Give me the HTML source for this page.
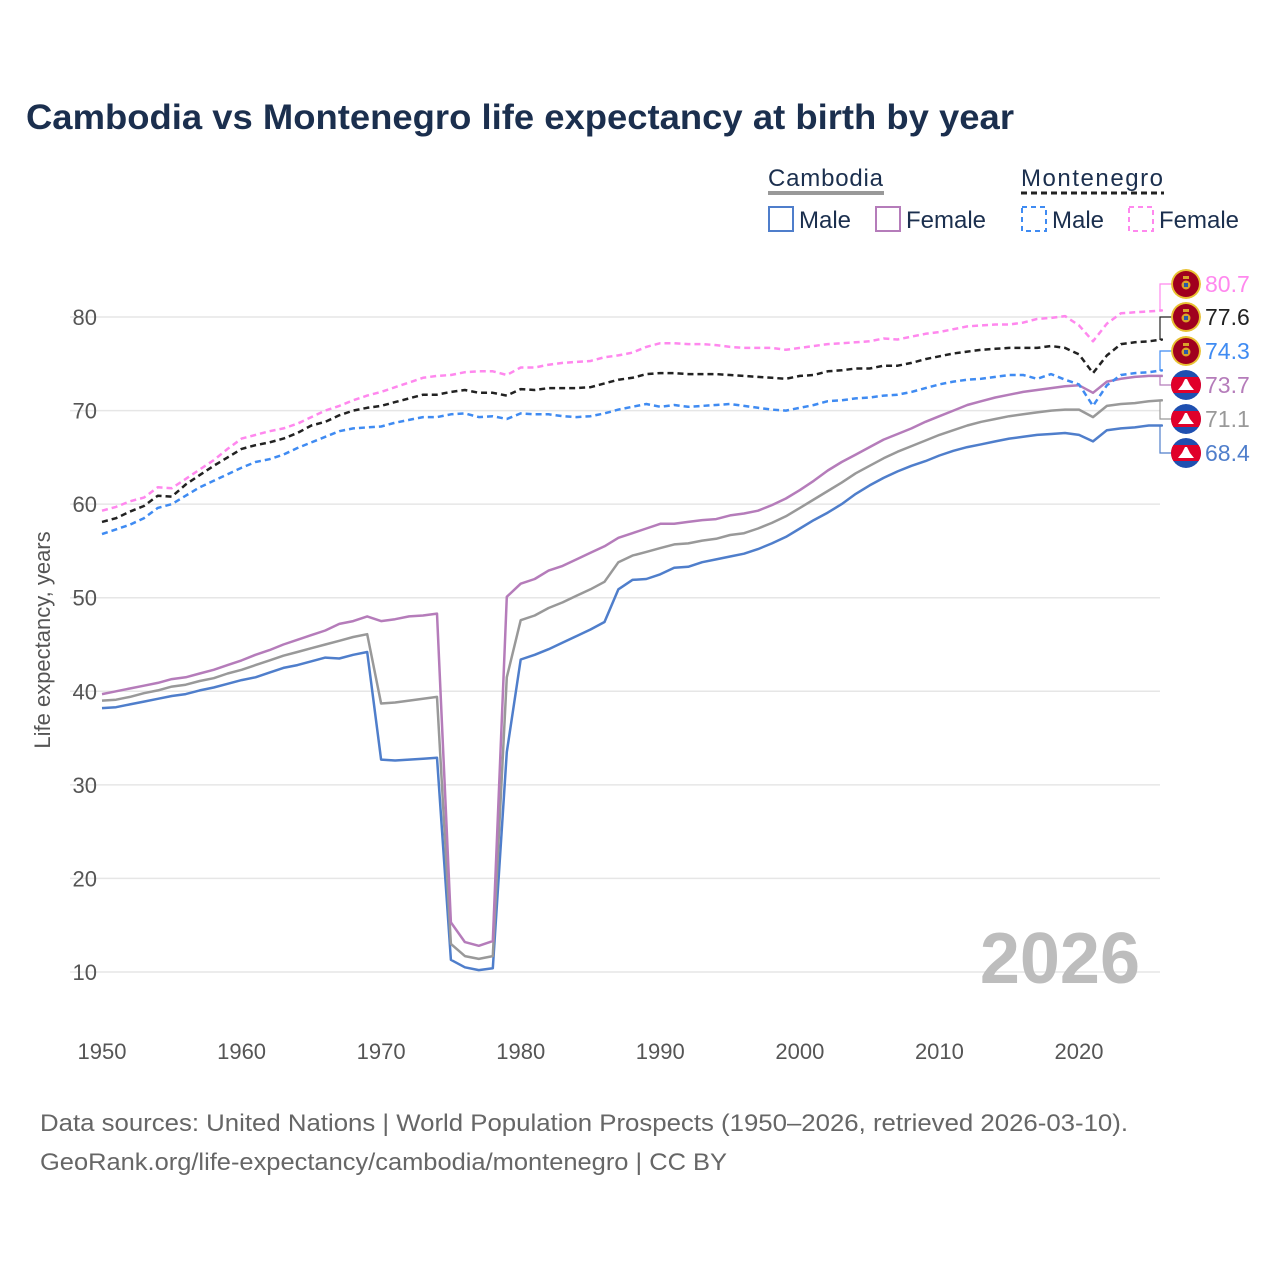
<!DOCTYPE html>
<html><head><meta charset="utf-8">
<style>
body{margin:0;background:#fff;}
svg{display:block;font-family:"Liberation Sans",sans-serif;}
</style></head>
<body>
<svg id="chart" width="1280" height="1280" viewBox="0 0 1280 1280">
<text x="26" y="129" font-size="35" font-weight="bold" fill="#1b2f4e" textLength="988" lengthAdjust="spacingAndGlyphs">Cambodia vs Montenegro life expectancy at birth by year</text>
<g>
 <text x="768" y="186" font-size="24" fill="#1b2f4e" textLength="115">Cambodia</text>
 <line x1="768" y1="193" x2="884" y2="193" stroke="#999" stroke-width="4"/>
 <text x="1021" y="186" font-size="24" fill="#1b2f4e" textLength="142">Montenegro</text>
 <line x1="1021" y1="193" x2="1164" y2="193" stroke="#222" stroke-width="3" stroke-dasharray="6,4"/>
 <rect x="769" y="207" width="24" height="24" fill="none" stroke="#4f7ecb" stroke-width="2"/>
 <text x="799" y="228" font-size="24" fill="#1b2f4e">Male</text>
 <rect x="876" y="207" width="24" height="24" fill="none" stroke="#b57cba" stroke-width="2"/>
 <text x="906" y="228" font-size="24" fill="#1b2f4e">Female</text>
 <rect x="1022" y="207" width="24" height="24" fill="none" stroke="#3f8bf2" stroke-width="2" stroke-dasharray="5,4"/>
 <text x="1052" y="228" font-size="24" fill="#1b2f4e">Male</text>
 <rect x="1129" y="207" width="24" height="24" fill="none" stroke="#ff88ee" stroke-width="2" stroke-dasharray="5,4"/>
 <text x="1159" y="228" font-size="24" fill="#1b2f4e">Female</text>
</g>
<g id="grid"></g>
<g id="series"></g>
<g id="labels"></g>
<text x="1140" y="983" font-size="72" font-weight="bold" fill="#bdbdbd" text-anchor="end">2026</text>
<text x="50" y="640" font-size="22" fill="#555" text-anchor="middle" transform="rotate(-90 50 640)">Life expectancy, years</text>
<text x="40" y="1131" font-size="24" fill="#666" textLength="1088" lengthAdjust="spacingAndGlyphs">Data sources: United Nations | World Population Prospects (1950–2026, retrieved 2026-03-10).</text>
<text x="40" y="1170" font-size="24" fill="#666" textLength="687" lengthAdjust="spacingAndGlyphs">GeoRank.org/life-expectancy/cambodia/montenegro | CC BY</text>
</svg>
<script>
const startYear = 1950;
const xTicks = [1950,1960,1970,1980,1990,2000,2010,2020];
const yTicks = [10,20,30,40,50,60,70,80];
const camMale = [38.2,38.3,38.6,38.9,39.2,39.5,39.7,40.1,40.4,40.8,41.2,41.5,42.0,42.5,42.8,43.2,43.6,43.5,43.9,44.2,32.7,32.6,32.7,32.8,32.9,11.3,10.5,10.2,10.4,33.5,43.4,43.9,44.5,45.2,45.9,46.6,47.4,50.9,51.9,52.0,52.5,53.2,53.3,53.8,54.1,54.4,54.7,55.2,55.8,56.5,57.4,58.3,59.1,60.0,61.1,62.0,62.8,63.5,64.1,64.6,65.2,65.7,66.1,66.4,66.7,67.0,67.2,67.4,67.5,67.6,67.4,66.7,67.9,68.1,68.2,68.4,68.4];
const camFemale = [39.7,40.0,40.3,40.6,40.9,41.3,41.5,41.9,42.3,42.8,43.3,43.9,44.4,45.0,45.5,46.0,46.5,47.2,47.5,48.0,47.5,47.7,48.0,48.1,48.3,15.3,13.2,12.8,13.3,50.1,51.5,52.0,52.9,53.4,54.1,54.8,55.5,56.4,56.9,57.4,57.9,57.9,58.1,58.3,58.4,58.8,59.0,59.3,59.9,60.6,61.5,62.5,63.6,64.5,65.3,66.1,66.9,67.5,68.1,68.8,69.4,70.0,70.6,71.0,71.4,71.7,72.0,72.2,72.4,72.6,72.7,71.9,73.1,73.4,73.6,73.7,73.7];
const camTotal = [39.0,39.1,39.4,39.8,40.1,40.5,40.7,41.1,41.4,41.9,42.3,42.8,43.3,43.8,44.2,44.6,45.0,45.4,45.8,46.1,38.7,38.8,39.0,39.2,39.4,13.0,11.7,11.4,11.7,41.5,47.6,48.1,48.9,49.5,50.2,50.9,51.7,53.8,54.5,54.9,55.3,55.7,55.8,56.1,56.3,56.7,56.9,57.4,58.0,58.7,59.6,60.5,61.4,62.3,63.3,64.1,64.9,65.6,66.2,66.8,67.4,67.9,68.4,68.8,69.1,69.4,69.6,69.8,70.0,70.1,70.1,69.3,70.5,70.7,70.8,71.0,71.1];
const mneFemale = [59.3,59.7,60.3,60.7,61.8,61.7,62.7,63.7,64.7,65.9,67.0,67.4,67.8,68.1,68.6,69.3,70.0,70.5,71.1,71.6,72.0,72.5,73.0,73.5,73.7,73.8,74.1,74.2,74.2,73.8,74.6,74.6,74.9,75.1,75.2,75.3,75.7,75.9,76.2,76.8,77.2,77.2,77.1,77.1,77.0,76.8,76.7,76.7,76.7,76.5,76.7,76.9,77.1,77.2,77.3,77.4,77.7,77.6,77.9,78.2,78.4,78.7,79.0,79.1,79.2,79.2,79.4,79.8,79.9,80.1,79.1,77.4,79.3,80.4,80.5,80.6,80.7];
const mneTotal = [58.1,58.5,59.2,59.8,60.9,60.8,62.1,63.1,64.1,65.0,65.9,66.3,66.6,67.0,67.6,68.4,68.8,69.5,70.0,70.3,70.5,70.9,71.3,71.7,71.7,72.0,72.2,71.9,71.9,71.6,72.3,72.2,72.4,72.4,72.4,72.5,72.9,73.3,73.5,73.9,74.0,74.0,73.9,73.9,73.9,73.8,73.7,73.6,73.5,73.4,73.7,73.8,74.2,74.3,74.5,74.5,74.8,74.8,75.1,75.5,75.8,76.1,76.3,76.5,76.6,76.7,76.7,76.7,76.9,76.7,76.0,74.0,75.9,77.1,77.3,77.4,77.6];
const mneMale = [56.8,57.3,57.8,58.5,59.6,60.0,60.9,61.8,62.5,63.2,63.9,64.5,64.8,65.3,66.0,66.6,67.2,67.8,68.1,68.2,68.3,68.7,69.0,69.3,69.3,69.6,69.7,69.3,69.4,69.1,69.7,69.6,69.6,69.4,69.3,69.4,69.7,70.1,70.4,70.7,70.4,70.6,70.4,70.5,70.6,70.7,70.5,70.3,70.1,70.0,70.3,70.6,71.0,71.1,71.3,71.4,71.6,71.7,72.0,72.4,72.8,73.1,73.3,73.4,73.6,73.8,73.8,73.4,73.9,73.3,72.8,70.5,72.7,73.8,74.0,74.1,74.3];

const NS='http://www.w3.org/2000/svg';
const X0=102, XS=(1079-102)/70, Y80=317, YS=655/70;
const xs = yr => X0 + (yr-1950)*XS;
const ys = v => Y80 + (80-v)*YS;
function mk(tag, attrs, parent){const e=document.createElementNS(NS,tag);for(const k in attrs)e.setAttribute(k,attrs[k]);parent.appendChild(e);return e;}
const grid=document.getElementById('grid');
yTicks.forEach(t=>{
  const l=mk('line',{x1:70,x2:1160,y1:ys(t),y2:ys(t),stroke:'#e6e6e6','stroke-width':1.5},grid);
  
  
  const tx=mk('text',{x:97,y:ys(t)+8,'font-size':22,fill:'#555','text-anchor':'end'},grid);
  tx.textContent=t;
  
  
});
xTicks.forEach(t=>{
  const tx=mk('text',{x:xs(t),y:1059,'font-size':22,fill:'#555','text-anchor':'middle'},grid);
  tx.textContent=t;
  
  
});
const seriesG=document.getElementById('series');
const labelsG=document.getElementById('labels');
const defs=[
 {d:mneFemale,c:'#ff88ee',dash:'6,4',lab:'#ff88ee',ly:284,flag:'mne',name:'montenegro-female'},
 {d:mneTotal,c:'#222',dash:'6,4',lab:'#222',ly:317,flag:'mne',name:'montenegro-total'},
 {d:mneMale,c:'#3f8bf2',dash:'6,4',lab:'#3f8bf2',ly:351,flag:'mne',name:'montenegro-male'},
 {d:camFemale,c:'#b57cba',dash:null,lab:'#b57cba',ly:385,flag:'cam',name:'cambodia-female'},
 {d:camTotal,c:'#999',dash:null,lab:'#999',ly:419,flag:'cam',name:'cambodia-total'},
 {d:camMale,c:'#4f7ecb',dash:null,lab:'#4f7ecb',ly:453,flag:'cam',name:'cambodia-male'}
];
defs.slice().reverse().forEach(s=>{
  const pts=s.d.map((v,i)=>xs(startYear+i).toFixed(1)+','+ys(v).toFixed(1)).join(' ');
  const p=mk('polyline',{points:pts,fill:'none',stroke:s.c,'stroke-width':2.5,'stroke-linejoin':'round'},seriesG);
  if(s.dash)p.setAttribute('stroke-dasharray',s.dash);
  
  
});
const svg=document.getElementById('chart');
const defsEl=mk('defs',{},svg);
defs.forEach((s,i)=>{
  const last=s.d[s.d.length-1];
  const ye=ys(last);
  const c=mk('path',{d:`M1163,${ye} H1160 V${s.ly} H1172`,fill:'none',stroke:s.c,'stroke-width':1.2},labelsG);
  
  
  const cx=1186, cy=s.ly;
  const cp=mk('clipPath',{id:'fc'+i},defsEl);
  mk('circle',{cx:cx,cy:cy,r:15},cp);
  const g=mk('g',{'clip-path':`url(#fc${i})`},labelsG);
  
  
  if(s.flag==='mne'){
    mk('circle',{cx:cx,cy:cy,r:15,fill:'#e8c132'},g);
    mk('circle',{cx:cx,cy:cy,r:13,fill:'#a0001e'},g);
    mk('circle',{cx:cx,cy:cy+1,r:4.5,fill:'#d9a32a'},g);
    mk('rect',{x:cx-2,y:cy-1,width:4,height:4,fill:'#2a5aa8'},g);
    mk('rect',{x:cx-3,y:cy-8,width:6,height:3,fill:'#d9a32a'},g);
  } else {
    mk('circle',{cx:cx,cy:cy,r:15,fill:'#1f4fb0'},g);
    mk('rect',{x:cx-15,y:cy-8,width:30,height:16,fill:'#e0002a'},g);
    mk('polygon',{points:`${cx-8},${cy+5} ${cx+8},${cy+5} ${cx+4},${cy} ${cx+1},${cy-6} ${cx-1},${cy-6} ${cx-4},${cy}`,fill:'#fff'},g);
  }
  const t=mk('text',{x:1205,y:s.ly+8,'font-size':23,fill:s.lab},labelsG);
  t.textContent=last.toFixed(1);
  
  
});
</script>
</body></html>
